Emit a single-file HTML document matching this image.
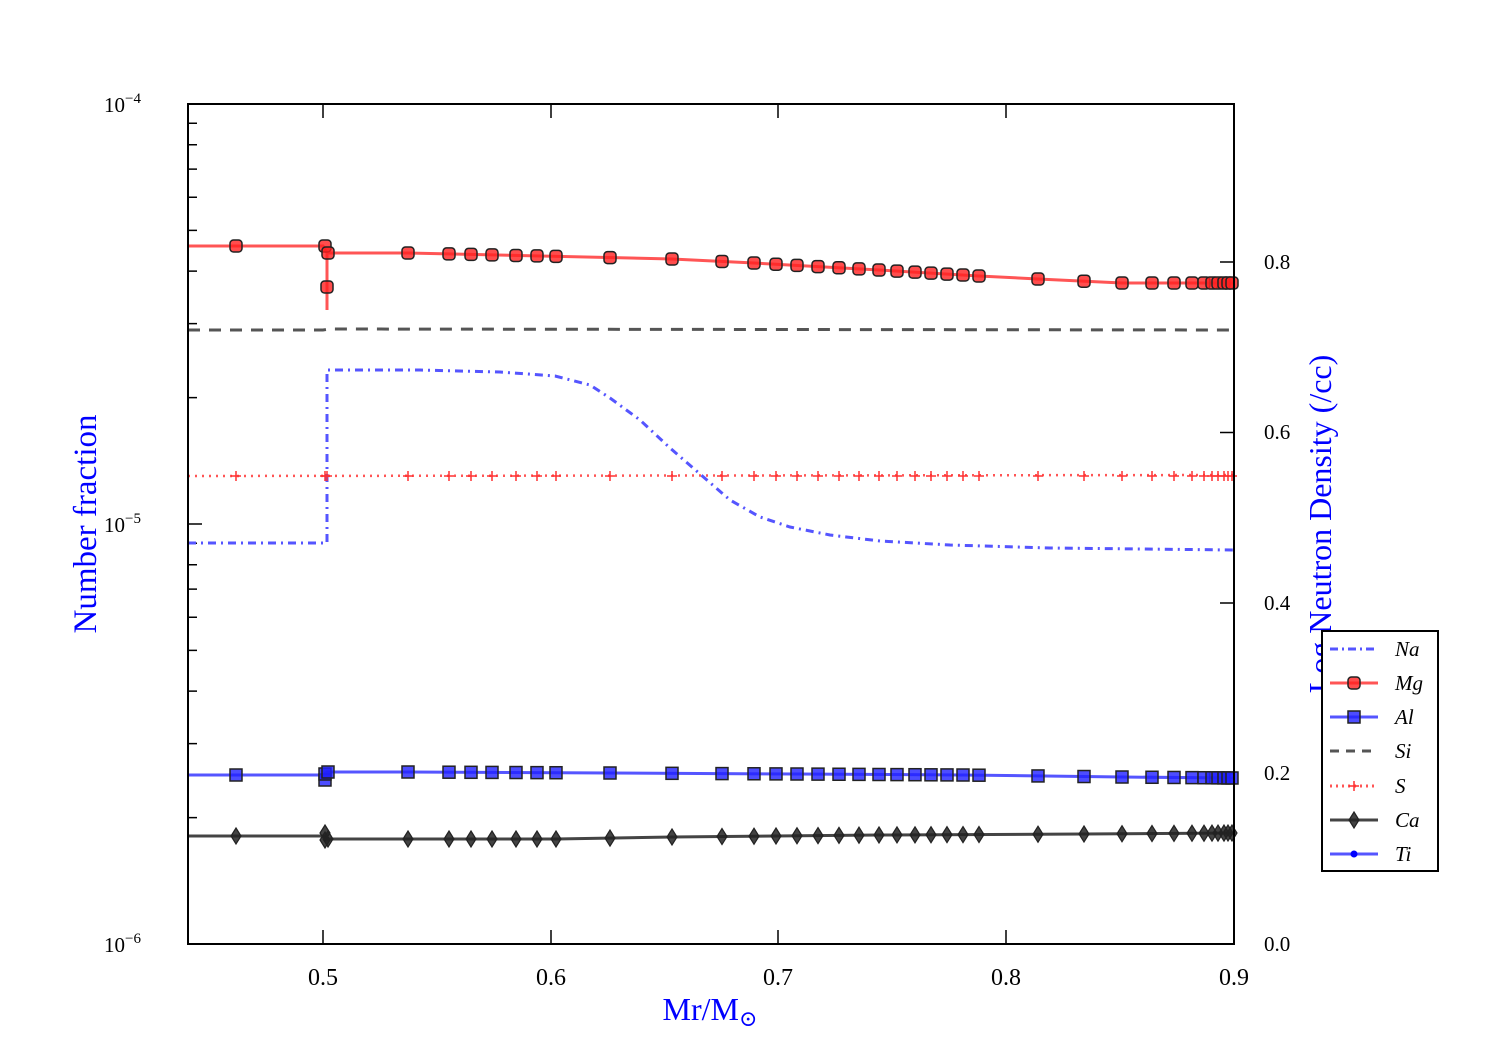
<!DOCTYPE html>
<html><head><meta charset="utf-8"><style>
html,body{margin:0;padding:0;background:#fff;}
svg text{font-family:"Liberation Serif","DejaVu Serif",serif;}
</style></head><body>
<svg id="s" width="1500" height="1050" xmlns="http://www.w3.org/2000/svg">
<defs>
<rect id="mg" x="-6" y="-6" width="12" height="12" rx="3.5" fill="#ff2020" fill-opacity="0.8" stroke="#222" stroke-width="1.5"/>
<rect id="al" x="-6" y="-6" width="12" height="12" fill="#2020ff" fill-opacity="0.8" stroke="#222" stroke-width="1.5"/>
<path id="ca" d="M0,-8 L5,0 L0,8 L-5,0 Z" fill="#222" fill-opacity="0.85" stroke="#222" stroke-width="1.2"/>
<path id="s1" d="M-5,0 H5 M0,-5 V5" stroke="#ff3030" stroke-width="1.5"/>
</defs>
<g id="g"></g>
<rect x="188" y="104" width="1046" height="840" fill="none" stroke="#000" stroke-width="2"/>
<g font-size="24" fill="#000">
<text x="323" y="985" text-anchor="middle">0.5</text>
<text x="551" y="985" text-anchor="middle">0.6</text>
<text x="778" y="985" text-anchor="middle">0.7</text>
<text x="1006" y="985" text-anchor="middle">0.8</text>
<text x="1234" y="985" text-anchor="middle">0.9</text>
<text x="1264" y="951" font-size="21">0.0</text>
<text x="1264" y="780" font-size="21">0.2</text>
<text x="1264" y="610" font-size="21">0.4</text>
<text x="1264" y="439" font-size="21">0.6</text>
<text x="1264" y="269" font-size="21">0.8</text>
<text x="104" y="952" font-size="21">10<tspan dy="-9" font-size="15">−6</tspan></text>
<text x="104" y="532" font-size="21">10<tspan dy="-9" font-size="15">−5</tspan></text>
<text x="104" y="112" font-size="21">10<tspan dy="-9" font-size="15">−4</tspan></text>
</g>
<text x="96" y="524" transform="rotate(-90 96 524)" text-anchor="middle" font-size="33" fill="#0000ff">Number fraction</text>
<text x="1331" y="524" transform="rotate(-90 1331 524)" text-anchor="middle" font-size="32" fill="#0000ff">Log Neutron Density (/cc)</text>
<text x="710" y="1020" text-anchor="middle" font-size="32" fill="#0000ff">Mr/M<tspan font-size="22" dy="6">⊙</tspan></text>
<g>
<rect x="1322" y="631" width="116" height="240" fill="#fff" stroke="#000" stroke-width="2"/>
<g stroke-width="3" fill="none">
<line x1="1330" y1="649" x2="1378" y2="649" stroke="#5555ff" stroke-dasharray="8,4,2,4"/>
<line x1="1330" y1="683" x2="1378" y2="683" stroke="#ff5555"/>
<line x1="1330" y1="717" x2="1378" y2="717" stroke="#5555ff"/>
<line x1="1330" y1="751" x2="1378" y2="751" stroke="#555" stroke-dasharray="9,7"/>
<line x1="1330" y1="786" x2="1378" y2="786" stroke="#ff5555" stroke-dasharray="2,4"/>
<line x1="1330" y1="820" x2="1378" y2="820" stroke="#444"/>
<line x1="1330" y1="854" x2="1378" y2="854" stroke="#5555ff"/>
</g>
<use href="#mg" x="1354" y="683"/><use href="#al" x="1354" y="717"/><use href="#s1" x="1354" y="786"/><use href="#ca" x="1354" y="820"/>
<circle cx="1354" cy="854" r="3.5" fill="#0000ff"/>
<g font-size="21" font-style="italic">
<text x="1395" y="656">Na</text><text x="1395" y="690">Mg</text><text x="1395" y="724">Al</text>
<text x="1395" y="758">Si</text><text x="1395" y="793">S</text><text x="1395" y="827">Ca</text><text x="1395" y="861">Ti</text>
</g></g>
</svg>
<script>
var g=document.getElementById('g'),NS='http://www.w3.org/2000/svg';
function el(t,a){var e=document.createElementNS(NS,t);for(var k in a)e.setAttribute(k,a[k]);g.appendChild(e);return e;}
var ticks='';
for(var d=0;d<2;d++){var base=944-420*d;ticks+='M188,'+base+'h14 ';for(var k=2;k<=9;k++){var y=base-420*Math.log10(k);ticks+='M188,'+y.toFixed(1)+'h9 ';}}
ticks+='M188,104h14 ';
[323,551,778,1006].forEach(function(x){ticks+='M'+x+',944v-14 M'+x+',104v14 ';});
[773.5,603,432.5,262].forEach(function(y){ticks+='M1234,'+y+'h-14 ';});
el('path',{d:ticks,stroke:'#000','stroke-width':1.5,fill:'none'});
var xs=[236,408,449,471,492,516,537,556,610,672,722,754,776,797,818,839,859,879,897,915,931,947,963,979,1038,1084,1122,1152,1174,1192,1204,1212,1218,1224,1228,1232];
function interp(pts,x){for(var i=0;i<pts.length-1;i++){if(x<=pts[i+1][0]){var a=pts[i],b=pts[i+1];return a[1]+(b[1]-a[1])*(x-a[0])/(b[0]-a[0]);}}return pts[pts.length-1][1];}
var mg=[[408,253],[672,259],[754,263],[879,270],[979,276],[1038,279],[1122,283],[1234,283]];
var al=[[408,772],[610,773],[797,774],[963,775],[1122,777],[1234,778]];
var ca=[[408,839],[556,839],[672,837],[879,835],[1084,834],[1234,833]];
function line(pts,st){var d='M'+pts.map(function(p){return p.join(',')}).join(' L');el('path',Object.assign({d:d,fill:'none'},st));}
line([[188,330],[323,330],[330,329],[1234,330]],{stroke:'#555','stroke-width':3,'stroke-dasharray':'12,9'});
line([[188,543],[323,543],[327,543],[327,370],[420,370],[500,372],[555,376],[590,385],[610,398],[640,420],[670,448],[700,474],[730,500],[760,517],[790,527],[830,535],[880,541],[950,545],[1050,548],[1234,550]],{stroke:'#5555ff','stroke-width':3,'stroke-dasharray':'8,5,2,5'});
line([[188,476],[1234,475]],{stroke:'#ff5555','stroke-width':2.5,'stroke-dasharray':'2,5'});
line([[188,246],[323,246],[327,253]].concat(mg),{stroke:'#ff5555','stroke-width':3});
line([[327,253],[327,310]],{stroke:'#ff5555','stroke-width':3});
line([[188,775],[323,775],[327,772]].concat(al),{stroke:'#5555ff','stroke-width':3});
line([[188,836],[323,836],[327,839]].concat(ca),{stroke:'#444','stroke-width':3});
function use(id,x,y){el('use',{href:'#'+id,x:x,y:y});}
use('s1',236,476);use('s1',325,476);use('s1',327,476);
xs.forEach(function(x){if(x>236)use('s1',x,476);});
use('ca',236,836);use('ca',325,833);use('ca',325,840);use('ca',328,839);
xs.forEach(function(x){if(x>236)use('ca',x,interp(ca,x));});
use('al',236,775);use('al',325,780);use('al',325,774);use('al',328,772);
xs.forEach(function(x){if(x>236)use('al',x,interp(al,x));});
use('mg',236,246);use('mg',325,246);use('mg',327,287);use('mg',328,253);
xs.forEach(function(x){if(x>236)use('mg',x,interp(mg,x));});
</script>
</body></html>
